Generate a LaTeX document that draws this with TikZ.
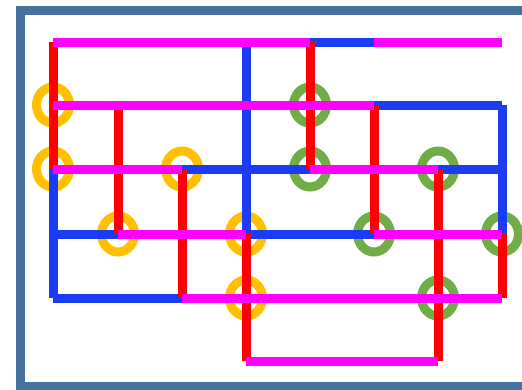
\documentclass[tikz,border=0pt]{standalone}
\usetikzlibrary{shapes.geometric}
\definecolor{wblue}{HTML}{1A3CF2}
\definecolor{wred}{HTML}{FF0000}
\definecolor{wmag}{HTML}{FF00FF}
\definecolor{wyel}{HTML}{FFC000}
\definecolor{wgrn}{HTML}{70AD47}
\definecolor{wframe}{HTML}{44739F}
\tikzset{
  wire/.style={line width=9pt},
  rw/.style={wire, draw=wred},
  mg/.style={wire, draw=wmag},
  bl/.style={wire, draw=wblue},
  ring/.style={ellipse, draw=#1, line width=9pt, minimum width=33pt, minimum height=36pt, inner sep=0pt},
  framebox/.style={draw=wframe, line width=9pt},
}
\begin{document}
\begin{tikzpicture}[x=1pt,y=-1pt]
\useasboundingbox (0,0) rectangle (522,389);
\draw[framebox] (20,10) rectangle (540,386);
% grid coordinates
\foreach \c/\xx in {A/53,B/118,C/182,D/246,E/310,F/374,G/438,H/502}{
  \foreach \r/\yy in {0/42,1/105,2/169,3/234,4/298,5/361}{
    \coordinate (\c\r) at (\xx,\yy);
  }
}
% rings
\node[ring=wyel] (rA1) at (A1) {};
\node[ring=wyel] (rA2) at (A2) {};
\node[ring=wyel] (rC2) at (C2) {};
\node[ring=wyel] (rB3) at (B3) {};
\node[ring=wyel] (rD3) at (D3) {};
\node[ring=wyel] (rD4) at (D4) {};
\node[ring=wgrn] (rE1) at (E1) {};
\node[ring=wgrn] (rE2) at (E2) {};
\node[ring=wgrn] (rG2) at (G2) {};
\node[ring=wgrn] (rF3) at (F3) {};
\node[ring=wgrn] (rH3) at (H3) {};
\node[ring=wgrn] (rG4) at (G4) {};
% blue wires
\draw[bl] (D0) -- (D3);
\draw[bl] (A2) -- (A4);
\draw[bl] (H1) -- (H3);
\draw[bl] (E0) -- (F0);
\draw[bl] (F1) -- (H1);
\draw[bl] (C2) -- (E2);
\draw[bl] (G2) -- (H2);
\draw[bl] (A3) -- (B3);
\draw[bl] (D3) -- (F3);
\draw[bl] (A4) -- (C4);
% red wires
\draw[rw] (A0) -- (A2);
\draw[rw] (B1) -- (B3);
\draw[rw] (C2) -- (C4);
\draw[rw] (D3) -- (D5);
\draw[rw] (E0) -- (E2);
\draw[rw] (F1) -- (F3);
\draw[rw] (G2) -- (G5);
\draw[rw] (H3) -- (H4);
% magenta wires
\draw[mg] (A0) -- (E0);
\draw[mg] (F0) -- (H0);
\draw[mg] (A1) -- (F1);
\draw[mg] (A2) -- (C2);
\draw[mg] (E2) -- (G2);
\draw[mg] (B3) -- (D3);
\draw[mg] (F3) -- (H3);
\draw[mg] (C4) -- (H4);
\draw[mg] (D5) -- (G5);
\end{tikzpicture}
\end{document}
